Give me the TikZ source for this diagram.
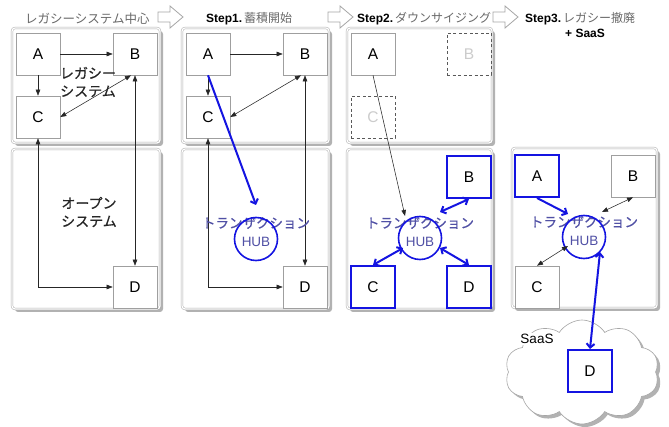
\documentclass[tikz,border=0pt]{standalone}
\usepackage{fontspec}
\setmainfont{Liberation Sans}
\newfontfamily\cjk{Noto Sans CJK JP}
\newfontfamily\cjkb[FakeBold=0.6]{Noto Sans CJK JP}
\usetikzlibrary{shapes.symbols,shadows,arrows.meta,calc}
\definecolor{blueC}{RGB}{20,20,225}
\definecolor{hubtxt}{RGB}{80,80,165}
\definecolor{titlegray}{RGB}{105,105,105}
\tikzset{
  panel/.style={draw=gray!65, double=white, double distance=1.2pt, line width=0.5pt, rounded corners=3pt, fill=white,
    drop shadow={shadow xshift=3pt, shadow yshift=-3pt, fill=gray!60, opacity=1}},
  box/.style={draw=gray!75, fill=white, minimum width=44pt, minimum height=42pt, inner sep=0pt, line width=0.6pt,
    font=\fontsize{15.5}{15.5}\selectfont},
  bbox/.style={box, draw=blueC, line width=2pt},
  dbox/.style={box, draw=gray!70!black, text=gray!40, dash pattern=on 3pt off 2.5pt},
  hub/.style={circle, draw=blueC, line width=1.6pt, minimum size=43pt, inner sep=0pt},
  htext/.style={text=hubtxt, font=\cjkb\fontsize{13.5}{13.5}\selectfont, inner sep=0pt},
  hubl/.style={text=hubtxt, font=\fontsize{13.5}{13.5}\selectfont, inner sep=0pt},
  ptext/.style={font=\cjkb\fontsize{14}{18}\selectfont, align=center, text=black!85},
  ttl/.style={font=\cjk\fontsize{12.5}{12.5}\selectfont, text=titlegray, anchor=west, inner sep=0pt},
  stp/.style={font=\fontsize{12}{14}\selectfont\bfseries, anchor=west, inner sep=0pt},
  arr/.style={draw=black!85, line width=0.55pt, -{Triangle[length=6pt,width=4.5pt]}},
  darr/.style={draw=black!85, line width=0.55pt, {Triangle[length=6pt,width=4.5pt]}-{Triangle[length=6pt,width=4.5pt]}},
  barr/.style={draw=blueC, line width=2pt, -{Straight Barb[length=4pt,width=8pt]}},
  bdarr/.style={draw=blueC, line width=2pt, {Straight Barb[length=4pt,width=8pt]}-{Straight Barb[length=4pt,width=8pt]}},
  hollow/.style={draw=gray!70, fill=white, line width=0.8pt, line join=miter}
}
\begin{document}
\begin{tikzpicture}[x=1pt,y=-1pt]
\useasboundingbox (0,0) rectangle (669,427);

% titles
\node[ttl] (t0) at (25,19) {レガシーシステム中心};
\node[stp] (t1) at (206,19) {Step1.\,{\cjk\mdseries\color{titlegray}蓄積開始}};
\node[stp] (t2) at (357,19) {Step2.\,{\cjk\mdseries\color{titlegray}ダウンサイジング}};
\node[stp] (t3) at (525,19) {Step3.\,{\cjk\mdseries\color{titlegray}レガシー撤廃}};
\node[stp] (t4) at (565,33) {+ SaaS};

% hollow arrows
\foreach \xx in {158,328,493}{
  \draw[hollow, shift={(\xx,0)}] (0,12) -- (12,12) -- (12,6) -- (25,17) -- (12,28) -- (12,22) -- (0,22) -- cycle;
}

% panels
\draw[panel] (12,28) rectangle (160,143);
\draw[panel] (12,149) rectangle (160,309);
\draw[panel] (182,28) rectangle (329,143);
\draw[panel] (182,149) rectangle (329,309);
\draw[panel] (347,28) rectangle (492,143);
\draw[panel] (347,149) rectangle (492,309);
\draw[panel] (512,148) rectangle (657,308);

% cloud
\node[cloud, cloud puffs=10, cloud puff arc=115, aspect=1.6, draw=gray!70, fill=white, line width=0.6pt,
  minimum width=154pt, minimum height=104pt,
  drop shadow={shadow xshift=3pt, shadow yshift=-3pt, fill=gray!60, opacity=1}] (cl) at (582,372) {};
\node[font=\fontsize{13.5}{13.5}\selectfont, fill=white, inner sep=1pt] (saas) at (537,339) {SaaS};

% ---- panel 1
\node[box] (A1) at (38,54) {A};
\node[box] (B1) at (135,54) {B};
\node[box] (C1) at (38,117) {C};
\node[box] (D1) at (135,287) {D};
\draw[arr] (A1.east) -- (A1.east -| B1.west);
\draw[arr] (A1.south) -- (C1.north);
\draw[darr] (C1.east) -- ([xshift=-4pt]B1.south);
\draw[darr] (B1.south) -- (D1.north);
\draw[darr] (C1.south) |- (D1.west);
\node[ptext] (L1) at (88,82) {レガシー\\システム};
\node[ptext] (O1) at (89,212) {オープン\\システム};

% ---- panel 2
\node[box] (A2) at (208,54) {A};
\node[box] (B2) at (305,54) {B};
\node[box] (C2) at (208,117) {C};
\node[box] (D2) at (305,287) {D};
\draw[arr] (A2.east) -- (A2.east -| B2.west);
\draw[arr] (A2.south) -- (C2.north);
\draw[darr] (C2.east) -- ([xshift=-4pt]B2.south);
\draw[darr] (B2.south) -- (D2.north);
\draw[darr] (C2.south) |- (D2.west);
\node[htext] (T2) at (256,223) {トランザクション};
\node[hubl] (U2) at (256,242) {HUB};
\node[hub] (H2) at (256,239) {};
\draw[barr] (A2.south) -- ($(H2)+(0,-34)$);

% ---- panel 3
\node[box] (A3) at (373,54) {A};
\node[dbox] (B3d) at (469,54) {B};
\node[dbox] (C3d) at (373,117) {C};
\node[bbox] (B3) at (469,177) {B};
\node[bbox] (C3) at (373,287) {C};
\node[bbox] (D3) at (469,287) {D};
\node[htext] (T3) at (420,223) {トランザクション};
\node[hubl] (U3) at (420,242) {HUB};
\node[hub] (H3) at (420,238) {};
\draw[arr] (A3.south) -- ($(H3)+(-15,-22)$);
\draw[bdarr] (B3.south) -- ($(H3)+(20,-26)$);
\draw[bdarr] (C3.north) -- ($(H3)+(-17,10)$);
\draw[bdarr] (D3.north) -- ($(H3)+(20,10)$);

% ---- panel 4
\node[bbox] (A4) at (537,176) {A};
\node[box] (B4) at (633,176) {B};
\node[box] (C4) at (537,287) {C};
\node[bbox] (D4) at (590,371) {D};
\node[htext] (T4) at (584,222) {トランザクション};
\node[hubl] (U4) at (584,241) {HUB};
\node[hub] (H4) at (584,237) {};
\draw[barr] (A4.south) -- ($(H4)+(-16,-23)$);
\draw[darr] ($(H4)+(18,-25)$) -- (B4.south);
\draw[darr] (C4.north) -- ($(H4)+(-16,9)$);
\draw[bdarr] (D4.north) -- ($(H4)+(16,15)$);
\end{tikzpicture}
\end{document}
